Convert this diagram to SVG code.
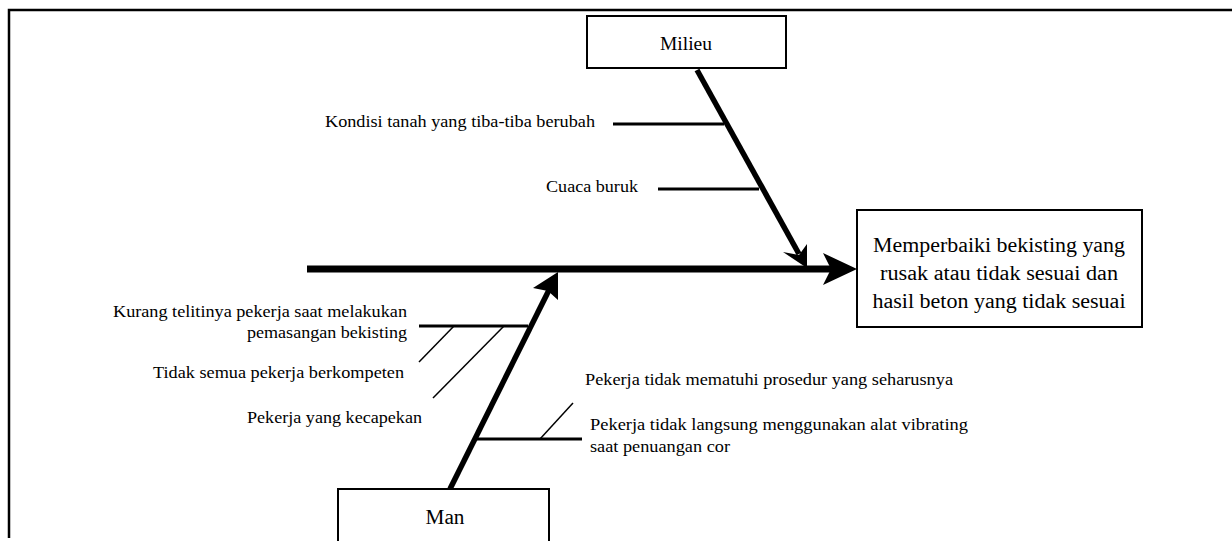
<svg xmlns="http://www.w3.org/2000/svg" width="1232" height="541" viewBox="0 0 1232 541">
<style>
.box{fill:#fff;stroke:#000;stroke-width:2}
.bone{stroke:#000;stroke-width:5.5;fill:none}
.spine{stroke:#000;stroke-width:7;fill:none}
.br{stroke:#000;stroke-width:3;fill:none}
.sub{stroke:#000;stroke-width:1.5;fill:none}
.head{fill:#000}
</style>
<rect x="0" y="0" width="1232" height="541" fill="#fff"/>
<path d="M9,538 V10 H1232" fill="none" stroke="#000" stroke-width="2.5"/>
<g id="connectors">
<line class="spine" x1="307" y1="269" x2="832" y2="269"/>
<polygon class="head" points="857,269 823,253 831,269 823,285"/>
<line class="bone" x1="697" y1="70" x2="799" y2="254"/>
<polygon class="head" points="807,268 783,252 799,255 807,244"/>
<line class="bone" x1="450" y1="489" x2="549" y2="290"/>
<polygon class="head" points="558,272 533,288 548,291 558,300"/>
<line class="br" x1="613" y1="124" x2="724" y2="124"/>
<line class="br" x1="658" y1="189" x2="759" y2="189"/>
<line class="br" x1="419" y1="326" x2="528" y2="326"/>
<line class="sub" x1="419" y1="362" x2="454" y2="326"/>
<line class="sub" x1="433" y1="398" x2="504" y2="326"/>
<line class="br" x1="477" y1="439" x2="582" y2="439"/>
<line class="sub" x1="540" y1="439" x2="573" y2="403"/>
</g>
<g font-family="'Liberation Serif', 'Times New Roman', serif" fill="#000" lengthAdjust="spacingAndGlyphs">
<g id="milieu">
<rect class="box" x="587" y="16" width="199" height="52"/>
<text x="686" y="50" font-size="19" text-anchor="middle" textLength="52" lengthAdjust="spacingAndGlyphs">Milieu</text>
</g>
<g id="man">
<rect class="box" x="338" y="489" width="211" height="60"/>
<text x="445" y="524" font-size="20" text-anchor="middle" textLength="39" lengthAdjust="spacingAndGlyphs">Man</text>
</g>
<g id="effect">
<rect class="box" x="857" y="210" width="285" height="117"/>
<text x="999" y="252" font-size="20" text-anchor="middle" textLength="252" lengthAdjust="spacingAndGlyphs">Memperbaiki bekisting yang</text>
<text x="999" y="280" font-size="20" text-anchor="middle" textLength="238" lengthAdjust="spacingAndGlyphs">rusak atau tidak sesuai dan</text>
<text x="999" y="308" font-size="20" text-anchor="middle" textLength="253" lengthAdjust="spacingAndGlyphs">hasil beton yang tidak sesuai</text>
</g>
<g id="cause-milieu-1"><text font-size="17" x="325" y="127" textLength="270" lengthAdjust="spacingAndGlyphs">Kondisi tanah yang tiba-tiba berubah</text></g>
<g id="cause-milieu-2"><text font-size="17" x="546" y="192" textLength="92" lengthAdjust="spacingAndGlyphs">Cuaca buruk</text></g>
<g id="cause-man-1"><text font-size="17" x="113" y="317" textLength="294" lengthAdjust="spacingAndGlyphs">Kurang telitinya pekerja saat melakukan</text><text font-size="17" x="247" y="338" textLength="160" lengthAdjust="spacingAndGlyphs">pemasangan bekisting</text></g>
<g id="cause-man-2"><text font-size="17" x="153" y="378" textLength="251" lengthAdjust="spacingAndGlyphs">Tidak semua pekerja berkompeten</text></g>
<g id="cause-man-3"><text font-size="17" x="247" y="423" textLength="175" lengthAdjust="spacingAndGlyphs">Pekerja yang kecapekan</text></g>
<g id="cause-man-4"><text font-size="16" x="585" y="385" textLength="368" lengthAdjust="spacingAndGlyphs">Pekerja tidak mematuhi prosedur yang seharusnya</text></g>
<g id="cause-man-5"><text font-size="16" x="590" y="430" textLength="378" lengthAdjust="spacingAndGlyphs">Pekerja tidak langsung menggunakan alat vibrating</text><text font-size="16" x="590" y="452" textLength="140" lengthAdjust="spacingAndGlyphs">saat penuangan cor</text></g>
</g>
</svg>
